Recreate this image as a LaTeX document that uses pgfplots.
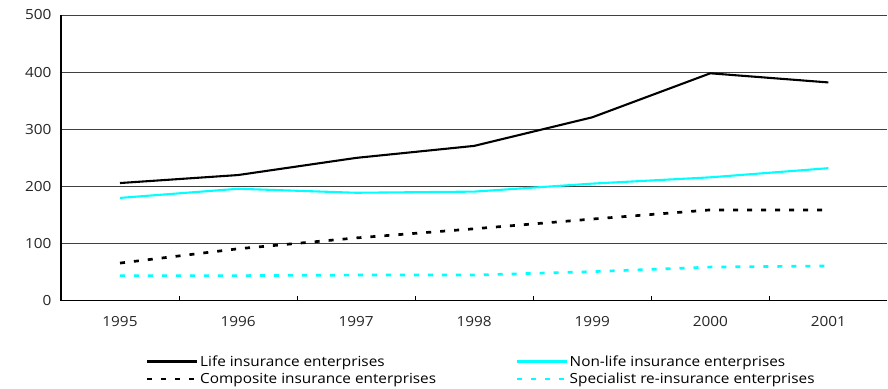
\documentclass[border=0pt]{standalone}
\usepackage{pgfplots}
\pgfplotsset{compat=1.18}
\usepackage{fontspec}
\setmainfont[FakeStretch=1.1]{Open Sans}

% Insurance enterprises, 1995--2001
\pgfplotstableread{
x year life nonlife composite specialist
0 1995 206 180 66 44
1 1996 220 196 91 44
2 1997 250 189 110 45
3 1998 271 191 126 45
4 1999 321 205 143 51
5 2000 398 216 159 59
6 2001 382 232 159 61
}\insurance

\definecolor{aqua}{HTML}{00FFFF}

\begin{document}
\begin{tikzpicture}
\begin{axis}[
  name=ax,
  scale only axis,
  width=827bp, height=286bp,
  xmin=-0.5, xmax=6.5,
  ymin=0, ymax=500,
  axis lines*=left,
  axis line style={black, line width=1.2pt},
  xtick={0,...,6},
  xticklabels={1995,1996,1997,1998,1999,2000,2001},
  major x tick style={draw=none},
  extra x ticks={0.5,1.5,...,5.5},
  extra x tick labels={},
  extra x tick style={major tick length=5bp, tick align=inside,
    major x tick style={draw=black, line width=0.8pt}},
  ytick={0,100,...,500},
  ymajorgrids,
  major grid style={black!75, line width=0.9pt},
  major y tick style={draw=none},
  tick label style={font=\fontsize{14}{16}\selectfont, text=black!85},
  xticklabel style={yshift=-12bp},
  yticklabel style={xshift=-6bp},
  /pgf/number format/assume math mode=true,
  clip=false,
  legend columns=2,
  legend cell align=left,
  legend style={
    at={(rel axis cs:0,0)}, anchor=north west,
    xshift=82bp, yshift=-51bp,
    draw=none, fill=none,
    font=\fontsize{14}{16}\selectfont,
    row sep=2.5bp,
    nodes={inner sep=1.5bp},
    /tikz/every even column/.append style={column sep=0bp},
  },
  legend image code/.code={\draw[#1] (0bp,0bp) -- (50bp,0bp);},
]
\addplot[black, line width=2.1pt] table[x=x, y=life] {\insurance};
\addlegendentry{\makebox[314bp][l]{Life insurance enterprises}}
\addplot[aqua, line width=2.1pt] table[x=x, y=nonlife] {\insurance};
\addlegendentry{Non-life insurance enterprises}
\addplot[black, line width=2.7pt, dash pattern=on 5bp off 9bp] table[x=x, y=composite] {\insurance};
\addlegendentry{\makebox[314bp][l]{Composite insurance enterprises}}
\addplot[aqua, line width=2.7pt, dash pattern=on 5bp off 9bp] table[x=x, y=specialist] {\insurance};
\addlegendentry{Specialist re-insurance enterprises}
\end{axis}
\path[use as bounding box] ([xshift=-61bp,yshift=-87bp]ax.south west) rectangle ([yshift=15bp]ax.north east);
\end{tikzpicture}
\end{document}
